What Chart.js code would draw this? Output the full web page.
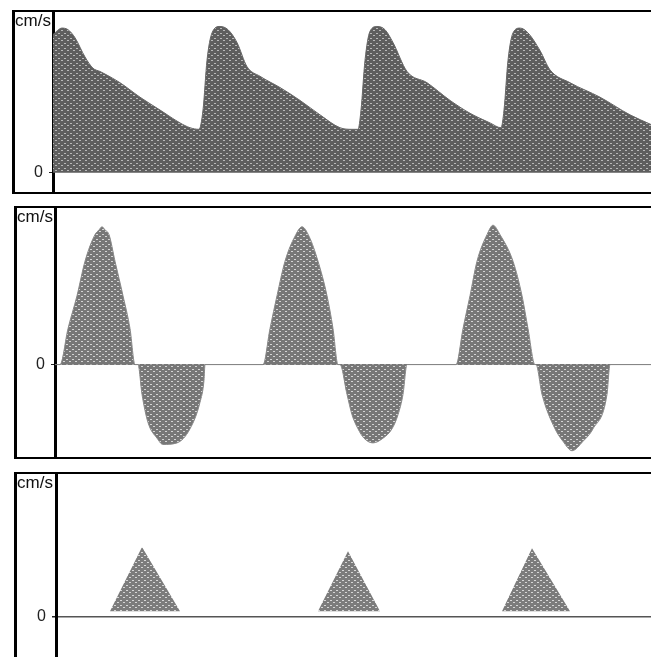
<!DOCTYPE html>
<html>
<head>
<meta charset="utf-8">
<script src="https://cdn.jsdelivr.net/npm/chart.js@4/dist/chart.umd.min.js"></script>
<style>
  body { margin: 0; background: #fff; width: 651px; height: 657px; overflow: hidden; position: relative; }
  .frame { position: absolute; border-left: 3px solid #000; border-top: 2px solid #000; }
  .frame canvas { display: block; }
  #f1 { left: 12px; top: 10px; border-bottom: 2px solid #000; }
  #f2 { left: 14px; top: 206px; border-bottom: 2px solid #000; }
  #f3 { left: 14px; top: 472px; }
</style>
</head>
<body>
<div class="frame" id="f1"><canvas id="c1" width="636" height="180"></canvas></div>
<div class="frame" id="f2"><canvas id="c2" width="634" height="249"></canvas></div>
<div class="frame" id="f3"><canvas id="c3" width="634" height="183"></canvas></div>
<script>
// time in ms, velocity in cm/s (arbitrary scale)
const p1Time = [0, 45, 75, 110, 160, 200, 235, 335, 435, 535, 635, 685, 730,
  750, 770, 795, 835, 875, 920, 970, 1035, 1135, 1235, 1335, 1435, 1495, 1525,
  1540, 1560, 1585, 1620, 1660, 1700, 1770, 1870, 1985, 2085, 2185, 2240,
  2255, 2275, 2300, 2335, 2375, 2435, 2485, 2585, 2735, 2885, 2990];
const p1Vel = [86, 90, 89, 84, 72, 65, 63, 56, 47, 39, 31, 28, 27,
  39, 70, 87, 91, 89, 81, 66, 60, 53, 45, 36, 28, 27, 27,
  39, 70, 88, 91, 89, 81, 63, 56, 45, 37, 31, 28,
  39, 70, 87, 90, 87, 76, 64, 56, 47, 36, 30];

const p2Time = [0, 25, 65, 110, 150, 200, 220, 235, 250, 270, 300, 340, 375, 400,
  415, 435, 465, 510, 540, 610, 675, 725, 745, 750,
  1040, 1075, 1110, 1150, 1200, 1235, 1270, 1315, 1360, 1390, 1415,
  1425, 1460, 1485, 1515, 1545, 1590, 1640, 1685, 1715, 1740, 1760,
  2005, 2040, 2075, 2110, 2160, 2190, 2225, 2290, 2335, 2365, 2400,
  2405, 2435, 2500, 2540, 2585, 2640, 2690, 2760, 2775, 2980];
const p2Vel = [0, 0, 23, 44, 66, 83, 86, 88, 86, 83, 66, 44, 23, 0,
  0, -19, -37, -47, -51, -50, -41, -24, -10, 0,
  0, 23, 44, 66, 82, 88, 82, 66, 44, 23, 0,
  0, -19, -32, -41, -47, -50, -47, -41, -32, -19, 0,
  0, 23, 44, 66, 83, 89, 83, 66, 44, 23, 0,
  0, -19, -41, -49, -55, -49, -41, -19, 0, 0];

const p3Base = 4;
const p3Time = [0, 270, 430, 620, 1310, 1460, 1620, 2230, 2380, 2570, 2975];
const p3Vel = [4, 4, 49, 4, 4, 46, 4, 4, 48, 4, 4];

const zeroTick = [0];

function makePattern(base, dot) {
  const c = document.createElement('canvas');
  c.width = 6; c.height = 5;
  const g = c.getContext('2d');
  g.fillStyle = base;
  g.fillRect(0, 0, 6, 5);
  g.fillStyle = dot;
  g.fillRect(1, 1, 2, 1);
  g.fillRect(4, 3, 2, 1);
  return g.createPattern(c, 'repeat');
}

const unitLabel = {
  id: 'unitLabel',
  afterDraw(chart) {
    const ctx = chart.ctx;
    ctx.save();
    ctx.font = '17px "Liberation Sans", Arial, sans-serif';
    ctx.fillStyle = '#111';
    ctx.textBaseline = 'top';
    ctx.fillText('cm/s', 0, 1);
    ctx.restore();
  }
};

function makePanel(id, times, vels, cfg) {
  const pts = times.map((t, i) => ({ x: t, y: vels[i] }));
  return new Chart(document.getElementById(id), {
    type: 'line',
    data: {
      datasets: [{
        data: pts,
        fill: cfg.fill,
        backgroundColor: cfg.pattern,
        borderColor: cfg.line,
        borderWidth: 1,
        pointRadius: 0,
        cubicInterpolationMode: cfg.smooth ? 'monotone' : 'default',
        tension: 0
      }]
    },
    options: {
      responsive: false,
      animation: false,
      layout: { padding: 0 },
      plugins: { legend: { display: false }, tooltip: { enabled: false } },
      scales: {
        x: { type: 'linear', display: false, min: 0, max: cfg.xMax },
        y: {
          min: cfg.yMin, max: 100, z: 1,
          afterBuildTicks: s => { s.ticks = zeroTick.map(v => ({ value: v })); },
          afterFit: s => { s.width = cfg.axisLeft; s.paddingTop = 0; s.paddingBottom = 0; },
          ticks: {
            padding: 6, color: '#222',
            font: { family: '"Liberation Sans", Arial, sans-serif', size: 16 },
            callback: v => String(v)
          },
          grid: { color: cfg.zeroLine, lineWidth: cfg.zeroWidth, tickColor: '#222', tickLength: 4 },
          border: { display: true, color: '#000', width: 3 }
        }
      }
    },
    plugins: [unitLabel]
  });
}

makePanel('c1', p1Time, p1Vel, {
  fill: 'origin', pattern: makePattern('#5e5e5e', '#b8b8b8'), line: '#666',
  smooth: true, xMax: 2990, yMin: -12, axisLeft: 38,
  zeroLine: 'rgba(0,0,0,0)', zeroWidth: 1
});
makePanel('c2', p2Time, p2Vel, {
  fill: 'origin', pattern: makePattern('#777', '#d4d4d4'), line: '#888',
  smooth: true, xMax: 2980, yMin: -59, axisLeft: 38,
  zeroLine: '#777', zeroWidth: 1
});
makePanel('c3', p3Time, p3Vel, {
  fill: { value: p3Base }, pattern: makePattern('#7c7c7c', '#d6d6d6'), line: 'rgba(0,0,0,0)',
  smooth: false, xMax: 2975, yMin: -28, axisLeft: 39,
  zeroLine: '#555', zeroWidth: 1.5
});
</script>
</body>
</html>
